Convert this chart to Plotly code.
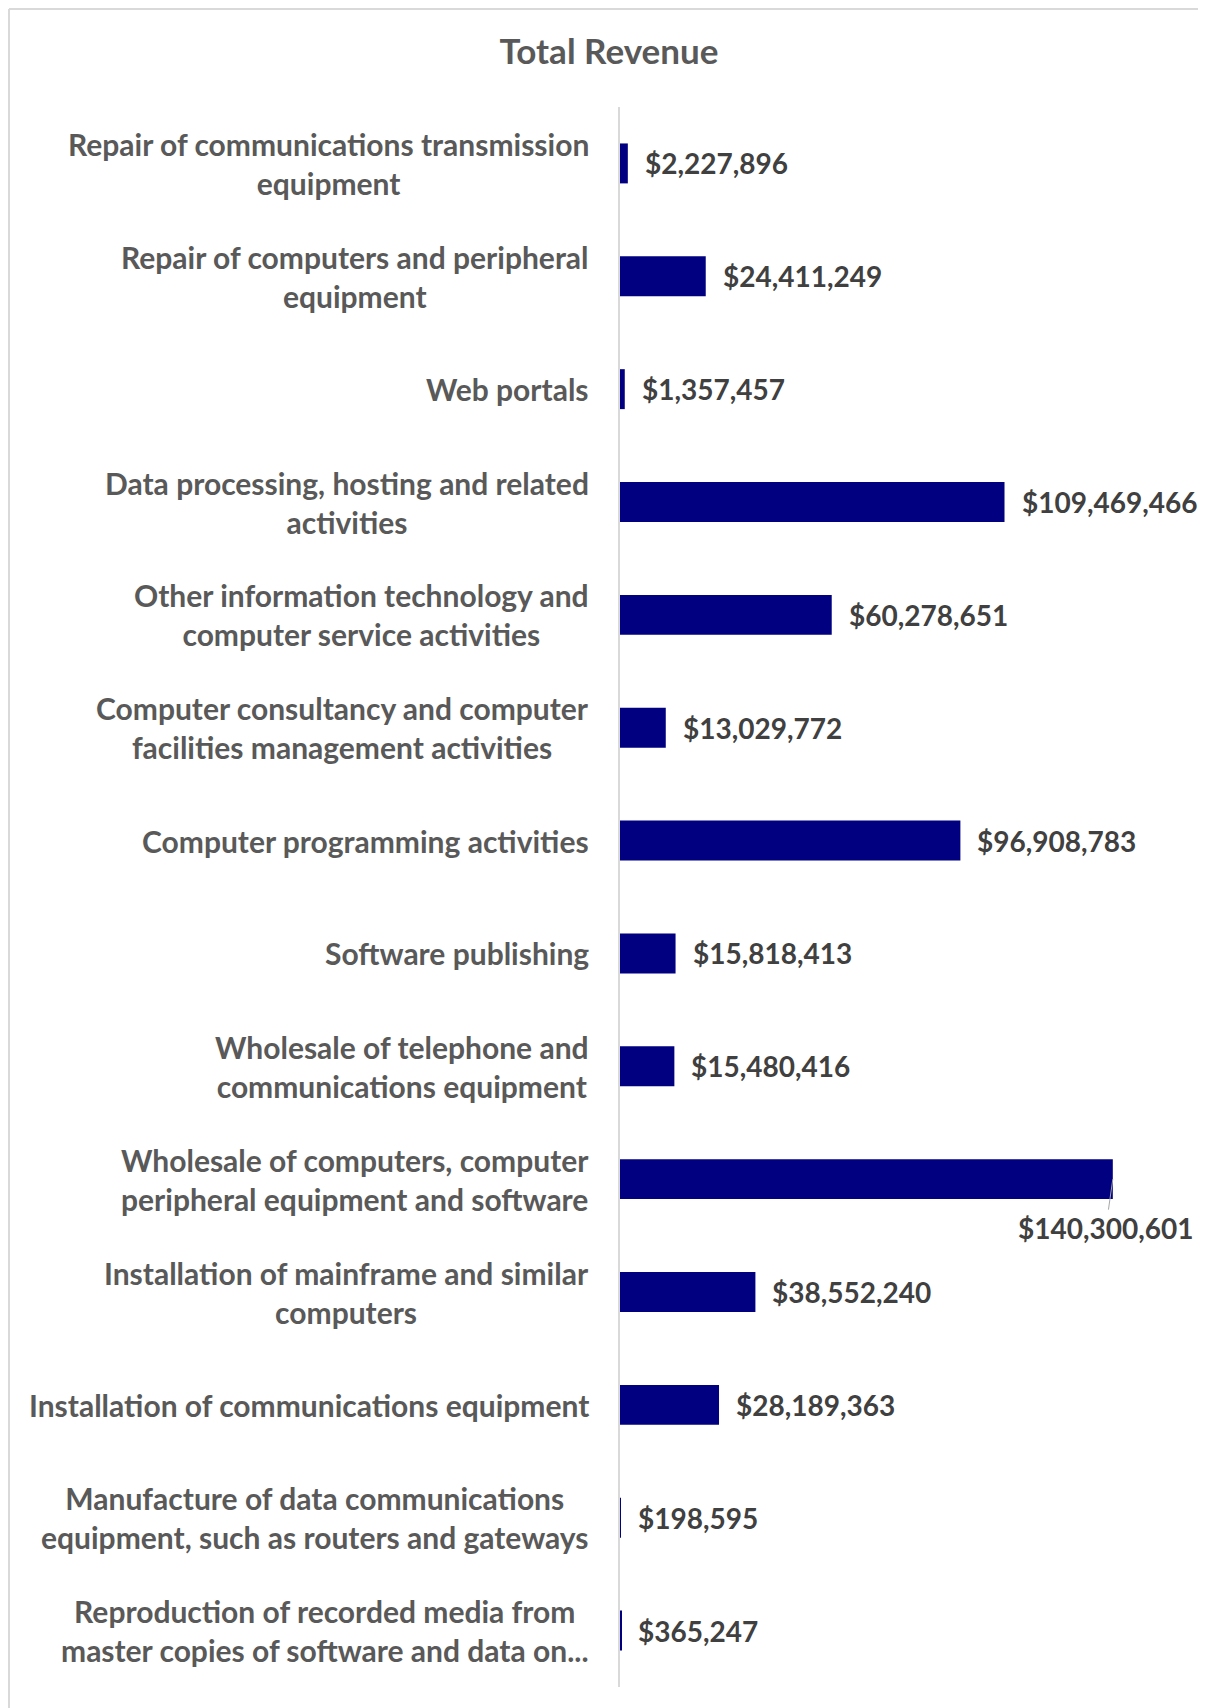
import plotly.graph_objects as go

# ─── Data ──────────────────────────────────────────────────
categories = [
    "Repair of communications transmission<br>equipment",
    "Repair of computers and peripheral<br>equipment",
    "Web portals",
    "Data processing, hosting and related<br>activities",
    "Other information technology and<br>computer service activities",
    "Computer consultancy and computer<br>facilities management activities",
    "Computer programming activities",
    "Software publishing",
    "Wholesale of telephone and<br>communications equipment",
    "Wholesale of computers, computer<br>peripheral equipment and software",
    "Installation of mainframe and similar<br>computers",
    "Installation of communications equipment",
    "Manufacture of data communications<br>equipment, such as routers and gateways",
    "Reproduction of recorded media from<br>master copies of software and data on...",
]
revenue = [
    2227896, 24411249, 1357457, 109469466, 60278651, 13029772, 96908783,
    15818413, 15480416, 140300601, 38552240, 28189363, 198595, 365247,
]
# the one label Excel pushed below its bar
callout_label = "Wholesale of computers, computer<br>peripheral equipment and software"

FONT = "Lato"
# page has an 8px body margin, so the figure is a bit smaller than the window
W, H = 1198, 1700
L, R, T, B = 612, 24, 99, 21
PW, PH = W - L - R, H - T - B


def px_x(px):
    return (px - L) / PW


def px_y(py):
    return (H - B - py) / PH


fig = go.Figure(go.Bar(
    x=revenue,
    y=categories,
    orientation="h",
    marker=dict(color="#000080", line=dict(width=0)),
    hoverinfo="skip",
))

annotations = []
for cat, val in zip(categories, revenue):
    # category label, centered lines, right block edge near the axis
    annotations.append(dict(
        x=px_x(583), xref="paper", y=cat, yref="y",
        text=cat, showarrow=False, xanchor="right", yanchor="middle",
        align="center",
        font=dict(family=FONT, size=30, color="#595959", weight="bold"),
    ))
    label = "${:,}".format(val)
    if cat == callout_label:
        annotations.append(dict(
            x=val, xref="x", y=cat, yref="y",
            text=label, showarrow=True, arrowhead=0, arrowwidth=1,
            arrowcolor="#a6a6a6", ax=-7, ay=49,
            font=dict(family=FONT, size=28, color="#404040", weight="bold"),
        ))
    else:
        annotations.append(dict(
            x=val, xref="x", y=cat, yref="y",
            text=label, showarrow=False, xanchor="left", yanchor="middle",
            xshift=15,
            font=dict(family=FONT, size=28, color="#404040", weight="bold"),
        ))

# chart frame (top and left edges are the visible ones)
shapes = [
    dict(type="line", xref="paper", yref="paper",
         x0=px_x(1), x1=px_x(1300), y0=px_y(1), y1=px_y(1),
         line=dict(color="#d9d9d9", width=2)),
    dict(type="line", xref="paper", yref="paper",
         x0=px_x(1), x1=px_x(1), y0=px_y(1), y1=px_y(1800),
         line=dict(color="#d9d9d9", width=2)),
]

fig.update_layout(
    width=W, height=H,
    margin=dict(l=L, r=R, t=T, b=B),
    paper_bgcolor="white", plot_bgcolor="white",
    showlegend=False,
    bargap=0.646,
    title=dict(
        text="Total Revenue", x=601 / W, xanchor="center",
        y=1 - 44 / H, yanchor="middle",
        font=dict(family=FONT, size=35, color="#595959", weight="bold"),
    ),
    xaxis=dict(range=[0, 160e6], showgrid=False, zeroline=False,
               showticklabels=False, showline=False),
    yaxis=dict(autorange="reversed", showticklabels=False, showgrid=False,
               zeroline=False, showline=True, linecolor="#d9d9d9",
               linewidth=1.5, ticks=""),
    annotations=annotations,
    shapes=shapes,
)

fig.write_html("out.html")
